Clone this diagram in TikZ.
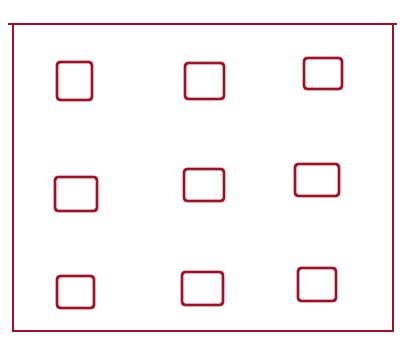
\documentclass[tikz,border=0pt]{standalone}
\usepackage{tikz}
\usetikzlibrary{positioning}

\definecolor{inkred}{RGB}{165,15,38}

\tikzset{
  cell/.style={draw=inkred,line width=0.7mm,rounded corners=0.8mm,inner sep=0pt},
}

\begin{document}
\begin{tikzpicture}[x=0.25mm,y=-0.25mm]
  \useasboundingbox (0,0) rectangle (406,349);

  % Outer frame
  \draw[inkred,line width=0.6mm] (13,24) rectangle (393,331);
  \draw[inkred,line width=0.6mm] (8,24) -- (13,24) (393,24) -- (397,24);

  % Top row
  \node[cell,minimum width=8.75mm,minimum height=9.5mm] (sq1) at (74.5,81) {};
  \node[cell,minimum width=9.75mm,minimum height=9mm] (sq2) at (204.5,81) {};
  \node[cell,minimum width=9.5mm,minimum height=7.75mm] (sq3) at (323,73.5) {};

  % Middle row
  \node[cell,minimum width=10.5mm,minimum height=8.5mm] (sq4) at (76,194) {};
  \node[cell,minimum width=10mm,minimum height=8mm] (sq5) at (204,185) {};
  \node[cell,minimum width=11mm,minimum height=8mm] (sq6) at (317,180) {};

  % Bottom row
  \node[cell,minimum width=9.25mm,minimum height=8mm] (sq7) at (75.5,292) {};
  \node[cell,minimum width=10.25mm,minimum height=8.25mm] (sq8) at (202.5,288.5) {};
  \node[cell,minimum width=9.5mm,minimum height=8.25mm] (sq9) at (317,284.5) {};

\end{tikzpicture}
\end{document}
